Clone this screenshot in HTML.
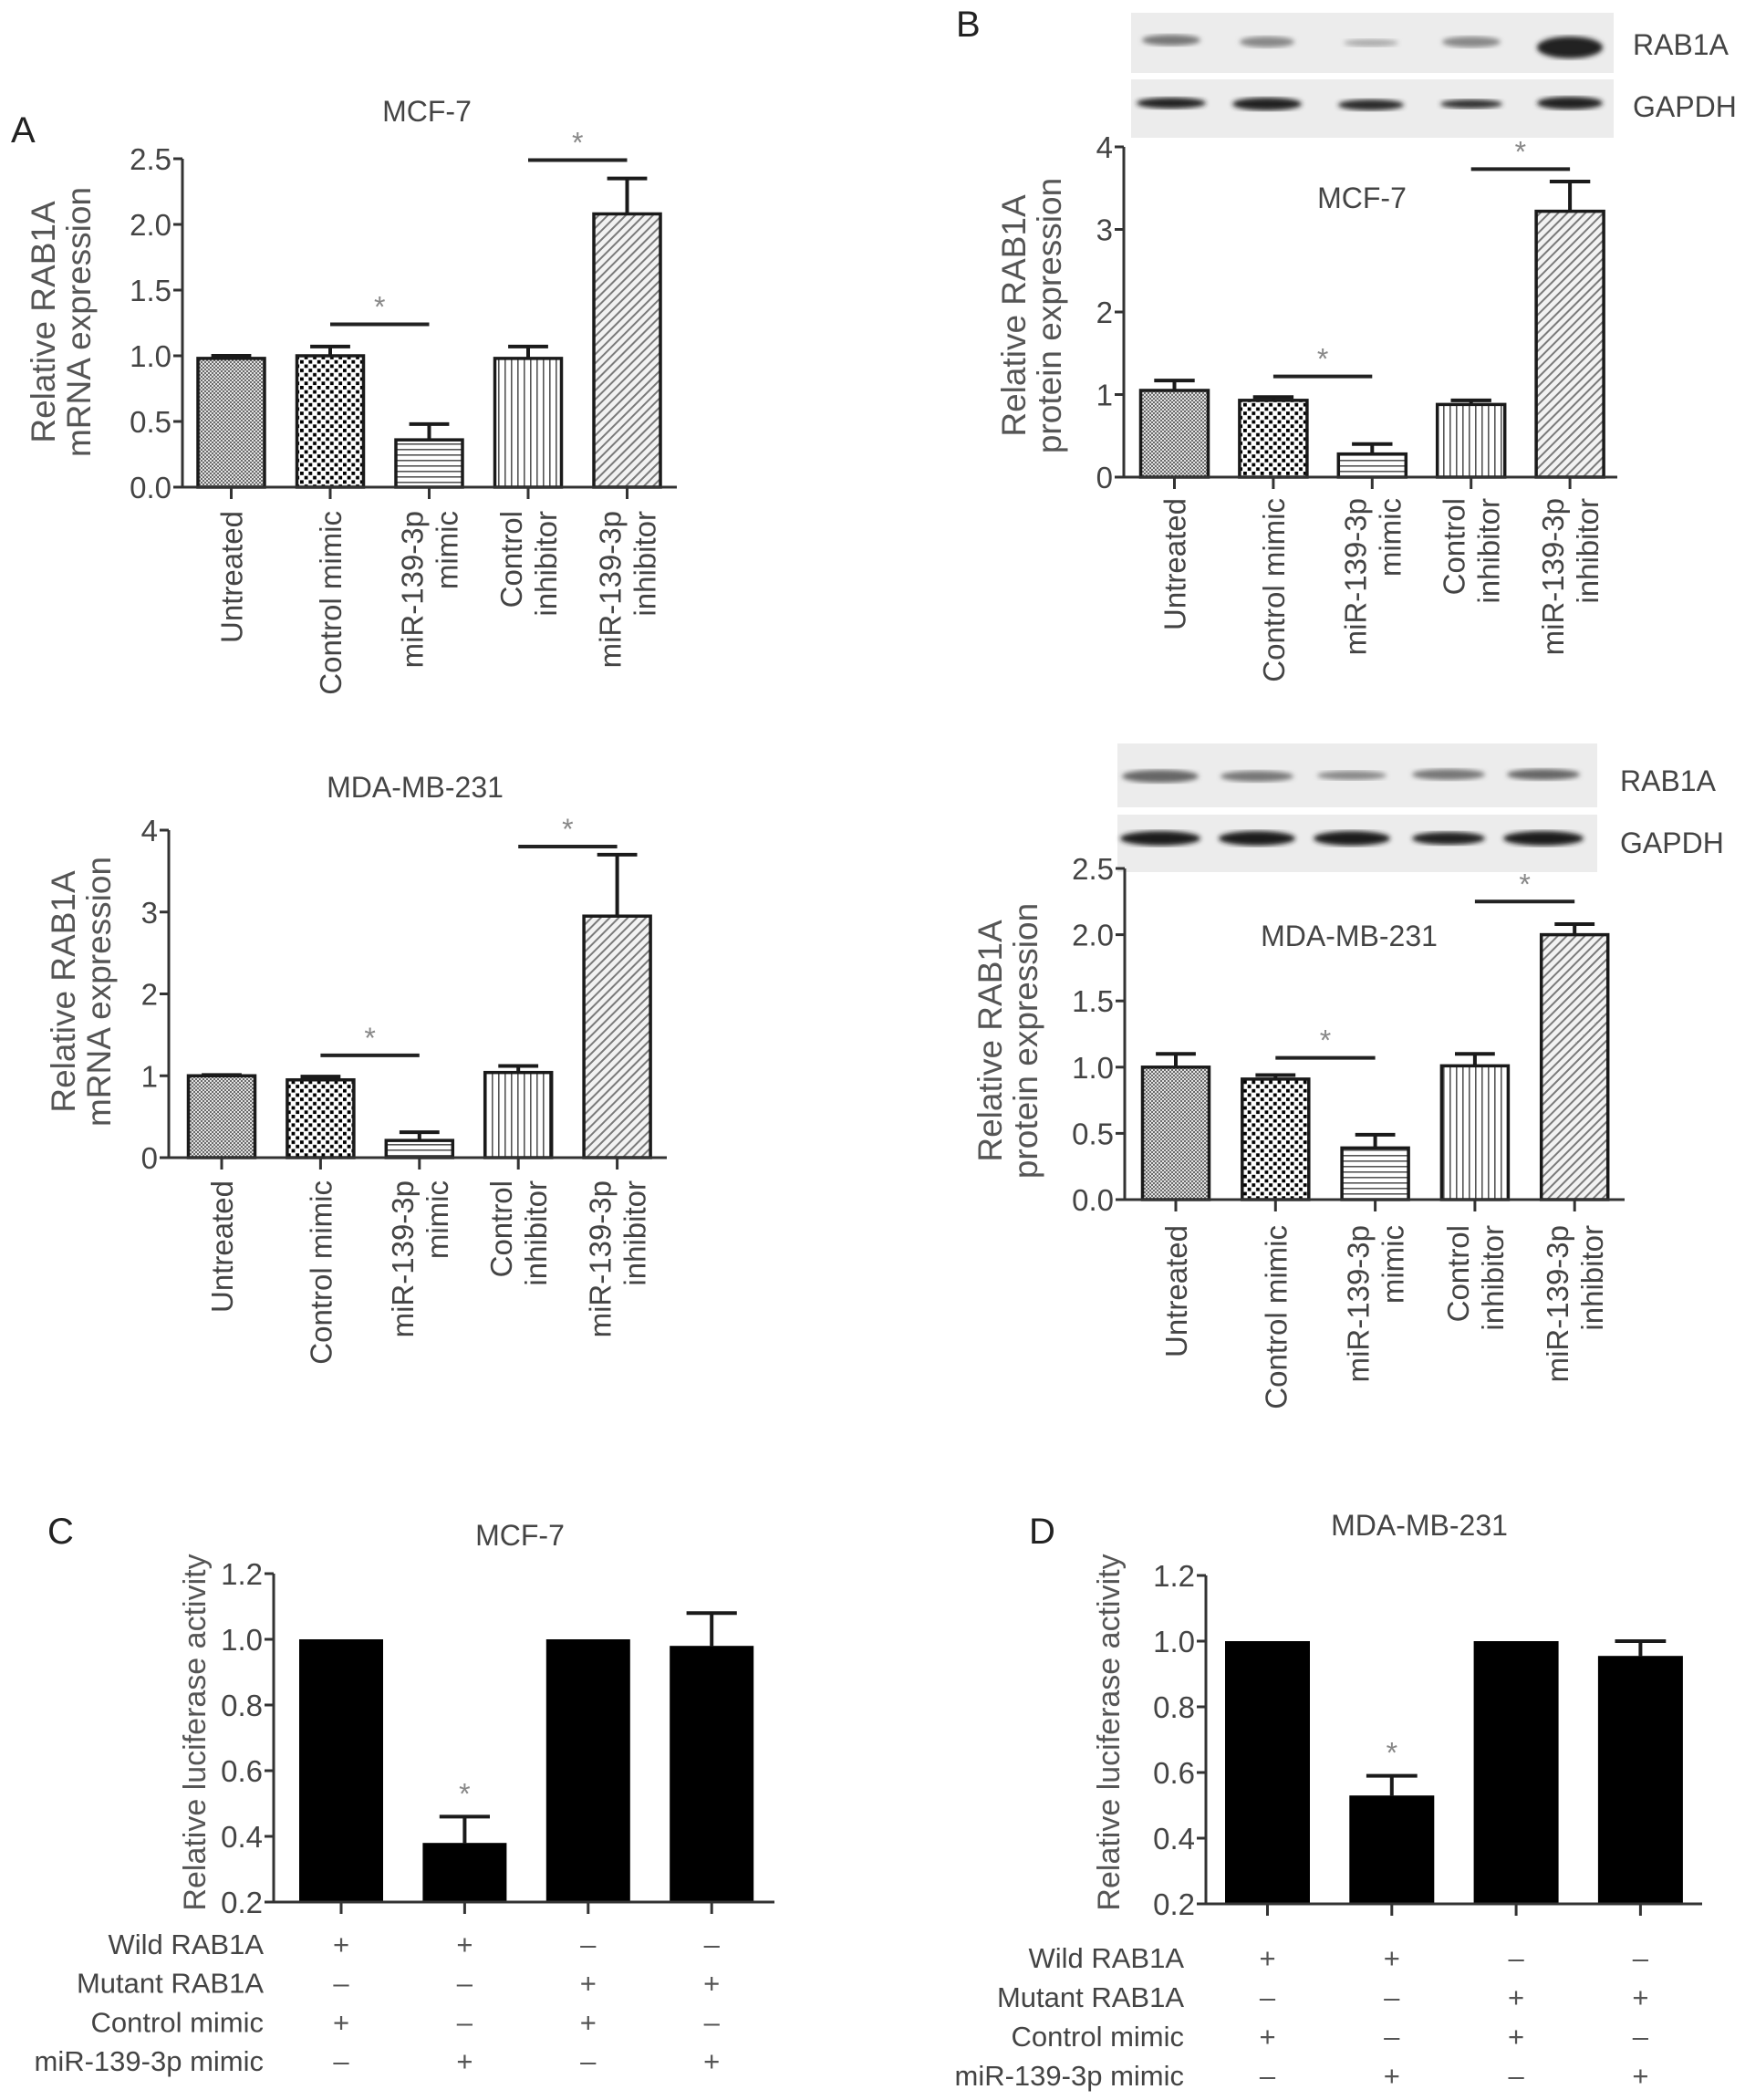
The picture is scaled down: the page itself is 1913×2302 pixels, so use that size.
<!DOCTYPE html>
<html><head><meta charset="utf-8">
<style>
html,body{margin:0;padding:0;background:#fff;}
svg{display:block;font-family:"Liberation Sans",Arial,sans-serif;}
</style></head>
<body>
<svg id="fig" width="1913" height="2302" viewBox="0 0 1913 2302" xmlns="http://www.w3.org/2000/svg">
<defs>
  <pattern id="pUntreated" width="4" height="4" patternUnits="userSpaceOnUse">
    <rect width="4" height="4" fill="#e2e2e2"/><rect width="2" height="2" fill="#6a6a6a"/><rect x="2" y="2" width="2" height="2" fill="#6a6a6a"/>
  </pattern>
  <pattern id="pCtrlMimic" width="9.4" height="9.4" patternUnits="userSpaceOnUse">
    <rect width="9.4" height="9.4" fill="#fff"/><rect x="0" y="0" width="3.8" height="3.8" fill="#000"/><rect x="4.7" y="4.7" width="3.8" height="3.8" fill="#000"/>
  </pattern>
  <pattern id="pMimic" width="6" height="6" patternUnits="userSpaceOnUse">
    <rect width="6" height="6" fill="#fff"/><rect y="0" width="6" height="1.6" fill="#555"/>
  </pattern>
  <pattern id="pCtrlInh" width="7" height="7" patternUnits="userSpaceOnUse">
    <rect width="7" height="7" fill="#fff"/><rect x="0" width="1.6" height="7" fill="#555"/>
  </pattern>
  <pattern id="pInh" width="7" height="7" patternUnits="userSpaceOnUse" patternTransform="rotate(45)">
    <rect width="7" height="7" fill="#f2f2f2"/><rect x="0" width="2" height="7" fill="#7a7a7a"/>
  </pattern>
  <filter id="blur2"><feGaussianBlur stdDeviation="2.6"/></filter>
</defs>
<g id="root"></g>
</svg>
<script>
// ---------- data ----------
const catLines = [["Untreated"],["Control mimic"],["miR-139-3p","mimic"],["Control","inhibitor"],["miR-139-3p","inhibitor"]];
const a1Values = [0.98, 1.00, 0.36, 0.98, 2.08];
const a1Errors = [0.02, 0.07, 0.12, 0.09, 0.27];
const a1Ticks = ["0.0","0.5","1.0","1.5","2.0","2.5"];
const a1TickValues = [0, 0.5, 1.0, 1.5, 2.0, 2.5];
const a1Sig = [[1,2,1.24],[3,4,2.49]];

const a2Values = [1.00, 0.95, 0.21, 1.04, 2.95];
const a2Errors = [0.01, 0.04, 0.10, 0.08, 0.75];
const a2Ticks = ["0","1","2","3","4"];
const a2TickValues = [0, 1, 2, 3, 4];
const a2Sig = [[1,2,1.25],[3,4,3.80]];

const b1Values = [1.05, 0.93, 0.28, 0.88, 3.22];
const b1Errors = [0.12, 0.04, 0.12, 0.05, 0.36];
const b1Ticks = ["0","1","2","3","4"];
const b1TickValues = [0, 1, 2, 3, 4];
const b1Sig = [[1,2,1.22],[3,4,3.73]];

const b2Values = [1.00, 0.91, 0.39, 1.01, 2.00];
const b2Errors = [0.10, 0.03, 0.10, 0.09, 0.08];
const b2Ticks = ["0.0","0.5","1.0","1.5","2.0","2.5"];
const b2TickValues = [0, 0.5, 1.0, 1.5, 2.0, 2.5];
const b2Sig = [[1,2,1.07],[3,4,2.25]];

const cValues = [1.00, 0.38, 1.00, 0.98];
const cErrors = [0, 0.08, 0, 0.10];
const dValues = [1.00, 0.53, 1.00, 0.955];
const dErrors = [0, 0.06, 0, 0.045];
const lucTicks = ["0.2","0.4","0.6","0.8","1.0","1.2"];
const lucTickValues = [0.2, 0.4, 0.6, 0.8, 1.0, 1.2];
const lucStars = [1];
const condRows = ["Wild RAB1A","Mutant RAB1A","Control mimic","miR-139-3p mimic"];
const condSigns = [["+","+","\u2013","\u2013"],["\u2013","\u2013","+","+"],["+","\u2013","+","\u2013"],["\u2013","+","\u2013","+"]];

const fills = ["url(#pUntreated)","url(#pCtrlMimic)","url(#pMimic)","url(#pCtrlInh)","url(#pInh)"];

// ---------- helpers ----------
const NS = "http://www.w3.org/2000/svg";
const root = document.getElementById("root");
function mk(tag, attrs, parent){
  const e = document.createElementNS(NS, tag);
  for (const k in attrs) e.setAttribute(k, attrs[k]);
  (parent||root).appendChild(e);
  return e;
}
function txt(s, attrs, parent){ const e = mk("text", attrs, parent); e.textContent = s; return e; }

function chart(name, L, values, errors, ticks, tickValues, sig, cats, barFill){
  const g = mk("g", {});
  
  
  const yMin = tickValues[0], yMax = tickValues[tickValues.length-1];
  const ys = v => L.y0 - (v - yMin) / (yMax - yMin) * (L.y0 - L.yTop);
  const xs = i => L.x0 + i * L.step;
  values.forEach((v,i)=>{
    const top = ys(v), cx = xs(i);
    const e = errors[i];
    if (e > 0){
      const ey = ys(v+e);
      const el = mk("path",{d:`M${cx},${top} V${ey} M${cx-L.bw*0.3},${ey} H${cx+L.bw*0.3}`, stroke:"#1a1a1a","stroke-width":4, fill:"none"}, g);
      
      
    }
    const r = mk("rect",{x:cx-L.bw/2, y:top, width:L.bw, height:L.y0-top, fill:barFill(i), stroke:"#1a1a1a", "stroke-width": L.solid?0:3.5}, g);
    
    
  });
  const ax = mk("path",{d:`M${L.ax},${L.yTop} V${L.y0} H${L.axEnd}`, stroke:"#333","stroke-width":3, fill:"none"}, g);
  
  
  tickValues.forEach((tv,k)=>{
    const y = ys(tv);
    mk("line",{x1:L.ax-10,x2:L.ax,y1:y,y2:y,stroke:"#333","stroke-width":3}, g);
    const t = txt(ticks[k],{x:L.ax-12,y:y+12,"text-anchor":"end","font-size":33,fill:"#444"}, g);
    
    
  });
  values.forEach((v,i)=>{
    const cx = xs(i);
    mk("line",{x1:cx,x2:cx,y1:L.y0,y2:L.y0+13,stroke:"#333","stroke-width":3}, g);
  });
  const yt = mk("g",{transform:`translate(${L.ytX},${L.ytY}) rotate(-90)`}, g);
  
  
  L.ytLines.forEach((s,k)=>{
    txt(s,{x:0,y:k*39,"text-anchor":"middle","font-size":L.ytSize||37,fill:"#555"}, yt);
  });
  if (cats){
    cats.forEach((lines,i)=>{
      const cx = xs(i);
      const cg = mk("g",{transform:`translate(${cx},${L.catTop}) rotate(-90)`}, g);
      
      
      lines.forEach((s,k)=>{
        const off = lines.length===1 ? 12 : (k===0 ? -7 : 31);
        txt(s,{x:0,y:off,"text-anchor":"end","font-size":33,fill:"#444"}, cg);
      });
    });
  }
  if (sig){
    sig.forEach(s=>{
      const y = ys(s[2]);
      const l = mk("line",{x1:xs(s[0]),x2:xs(s[1]),y1:y,y2:y,stroke:"#222","stroke-width":4}, g);
      
      
      const st = txt("*",{x:(xs(s[0])+xs(s[1]))/2,y:y-8,"text-anchor":"middle","font-size":32,fill:"#888"}, g);
      
      
    });
  }
  const tt = txt(L.title,{x:L.tX,y:L.tY,"text-anchor":"middle","font-size":32,fill:"#444"}, g);
  
  
  return {xs, ys, g};
}

function panelLetter(s,x,y){
  const t = txt(s,{x:x,y:y,"font-size":40,fill:"#222"});
  
  
}

function blot(name, x, y, w, h, lanes, bands){
  const g = mk("g",{});
  
  
  mk("rect",{x:x,y:y,width:w,height:h,fill:"#ececec"}, g);
  lanes.forEach((ln,i)=>{
    const b = bands[i];
    mk("ellipse",{cx:ln, cy:b[0], rx:b[1], ry:b[2], fill:b[3], filter:"url(#blur2)"}, g);
  });
}

// ---------- panel A ----------
panelLetter("A", 12, 156);
chart("chart-a-mcf7",{x0:253.5,step:108.5,bw:73,ax:200,axEnd:742,y0:534,yTop:174,ytX:60,ytY:353,ytLines:["Relative RAB1A","mRNA expression"],catTop:560,tX:468,tY:133,title:"MCF-7"},
  a1Values,a1Errors,a1Ticks,a1TickValues,a1Sig,catLines,i=>fills[i]);
chart("chart-a-mda",{x0:243,step:108.4,bw:73,ax:185,axEnd:731,y0:1269,yTop:910,ytX:82,ytY:1087,ytLines:["Relative RAB1A","mRNA expression"],catTop:1294,tX:455,tY:874,title:"MDA-MB-231"},
  a2Values,a2Errors,a2Ticks,a2TickValues,a2Sig,catLines,i=>fills[i]);

// ---------- panel B ----------
panelLetter("B", 1048, 40);
blot("western-blot-mcf7-rab1a",1240,14,529,66,[1284,1389,1503,1613,1721],[[44,32,6,"#777"],[46,30,6,"#888"],[47,30,4,"#aaa"],[46,32,6,"#888"],[52,36,12,"#222"]]);
blot("western-blot-mcf7-gapdh",1240,87,529,64,[1284,1389,1503,1613,1721],[[113,38,6,"#222"],[114,38,7,"#222"],[115,36,6,"#2a2a2a"],[114,34,5,"#333"],[113,36,7,"#222"]]);
txt("RAB1A",{x:1790,y:60,"font-size":32,fill:"#444"});
txt("GAPDH",{x:1790,y:128,"font-size":32,fill:"#444"});
chart("chart-b-mcf7",{x0:1287.5,step:108.4,bw:74,ax:1232,axEnd:1773,y0:523,yTop:161,ytX:1124,ytY:346,ytLines:["Relative RAB1A","protein expression"],catTop:546,tX:1493,tY:228,title:"MCF-7"},
  b1Values,b1Errors,b1Ticks,b1TickValues,b1Sig,catLines,i=>fills[i]);

blot("western-blot-mda-rab1a",1225,815,526,70,[1272,1378,1482,1588,1692],[[851,42,7,"#666"],[851,40,6,"#777"],[850,38,5,"#888"],[849,40,6,"#777"],[849,40,6,"#666"]]);
blot("western-blot-mda-gapdh",1225,893,526,63,[1272,1378,1482,1588,1692],[[919,44,8,"#1a1a1a"],[919,42,8,"#1a1a1a"],[919,42,8,"#1a1a1a"],[919,40,7,"#222"],[919,44,8,"#1a1a1a"]]);
txt("RAB1A",{x:1776,y:867,"font-size":32,fill:"#444"});
txt("GAPDH",{x:1776,y:935,"font-size":32,fill:"#444"});
chart("chart-b-mda",{x0:1289,step:109.3,bw:73,ax:1233,axEnd:1781,y0:1315,yTop:952,ytX:1098,ytY:1141,ytLines:["Relative RAB1A","protein expression"],catTop:1343,tX:1479,tY:1037,title:"MDA-MB-231"},
  b2Values,b2Errors,b2Ticks,b2TickValues,b2Sig,catLines,i=>fills[i]);

// ---------- panels C, D ----------
function lucChart(name,L,values,errors){
  const c = chart(name,L,values,errors,lucTicks,lucTickValues,null,null,()=>"#000");
  lucStars.forEach(i=>{
    const st = txt("*",{x:c.xs(i),y:c.ys(values[i]+errors[i])-14,"text-anchor":"middle","font-size":32,fill:"#888"}, c.g);
    
    
  });
  condRows.forEach((r,k)=>{
    const y = L.rowY0 + k*L.rowStep;
    const t = txt(r,{x:L.rowX,y:y+11,"text-anchor":"end","font-size":31,fill:"#444"}, c.g);
    
    
    condSigns[k].forEach((s,i)=>{
      const sg = txt(s,{x:c.xs(i),y:y+11,"text-anchor":"middle","font-size":31,fill:"#555"}, c.g);
      
      
    });
  });
}
panelLetter("C", 52, 1692);
lucChart("chart-c-mcf7",{x0:374,step:135.4,bw:92,ax:300,axEnd:849,y0:2085,yTop:1725,ytX:225,ytY:1899,ytLines:["Relative luciferase activity"],ytSize:34,tX:570,tY:1694,title:"MCF-7",solid:true,rowX:289,rowY0:2131,rowStep:42.7},cValues,cErrors);
panelLetter("D", 1128, 1692);
lucChart("chart-d-mda",{x0:1389.5,step:136.3,bw:93,ax:1322,axEnd:1866,y0:2087,yTop:1727,ytX:1227,ytY:1899,ytLines:["Relative luciferase activity"],ytSize:34,tX:1556,tY:1683,title:"MDA-MB-231",solid:true,rowX:1298,rowY0:2146,rowStep:43},dValues,dErrors);
</script>
</body></html>
